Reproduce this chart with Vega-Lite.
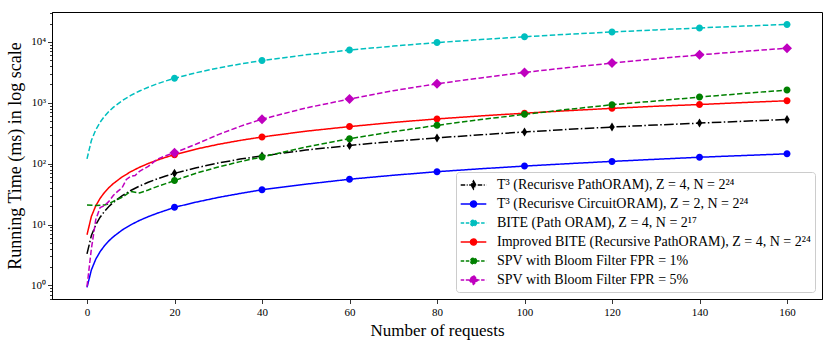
{
 "$schema": "https://vega.github.io/schema/vega-lite/v6.json",
 "width": 770, "height": 287,
 "autosize": {"type": "none"},
 "padding": {"left": 52, "top": 12, "right": 9, "bottom": 45},
 "background": "white",
 "datasets": {"d": [
  {"s":"A","n":0,"v":3.3},{"s":"A","n":1,"v":6.6},{"s":"A","n":2,"v":9.9},{"s":"A","n":3,"v":13.2},{"s":"A","n":4,"v":16.5},{"s":"A","n":5,"v":19.8},{"s":"A","n":6,"v":23.1},{"s":"A","n":8,"v":29.7},{"s":"A","n":10,"v":36.3},{"s":"A","n":12,"v":42.9},{"s":"A","n":14,"v":49.5},{"s":"A","n":16,"v":56.1},{"s":"A","n":18,"v":62.7},{"s":"A","n":20,"v":69.3},{"s":"A","n":25,"v":85.8},{"s":"A","n":30,"v":102.3},{"s":"A","n":35,"v":118.8},{"s":"A","n":40,"v":134},{"s":"A","n":50,"v":167},{"s":"A","n":60,"v":199},{"s":"A","n":70,"v":232},{"s":"A","n":80,"v":265},{"s":"A","n":90,"v":298},{"s":"A","n":100,"v":331},{"s":"A","n":110,"v":366},{"s":"A","n":120,"v":399},{"s":"A","n":130,"v":431},{"s":"A","n":140,"v":463},{"s":"A","n":150,"v":497},{"s":"A","n":160,"v":532},
  {"s":"B","n":0,"v":0.93},{"s":"B","n":1,"v":1.8},{"s":"B","n":2,"v":2.7},{"s":"B","n":3,"v":3.6},{"s":"B","n":4,"v":4.5},{"s":"B","n":5,"v":5.4},{"s":"B","n":6,"v":6.3},{"s":"B","n":8,"v":8.1},{"s":"B","n":10,"v":9.9},{"s":"B","n":12,"v":11.7},{"s":"B","n":14,"v":13.5},{"s":"B","n":16,"v":15.3},{"s":"B","n":18,"v":17.1},{"s":"B","n":20,"v":19.2},{"s":"B","n":25,"v":23.4},{"s":"B","n":30,"v":27.9},{"s":"B","n":35,"v":32.4},{"s":"B","n":40,"v":37.3},{"s":"B","n":50,"v":46},{"s":"B","n":60,"v":55.5},{"s":"B","n":70,"v":64.5},{"s":"B","n":80,"v":73.8},{"s":"B","n":90,"v":82.5},{"s":"B","n":100,"v":91.3},{"s":"B","n":110,"v":100},{"s":"B","n":120,"v":109},{"s":"B","n":130,"v":118},{"s":"B","n":140,"v":127.5},{"s":"B","n":150,"v":136},{"s":"B","n":160,"v":145},
  {"s":"C","n":0,"v":120},{"s":"C","n":1,"v":240},{"s":"C","n":2,"v":360},{"s":"C","n":3,"v":480},{"s":"C","n":4,"v":600},{"s":"C","n":5,"v":720},{"s":"C","n":6,"v":840},{"s":"C","n":8,"v":1080},{"s":"C","n":10,"v":1320},{"s":"C","n":12,"v":1560},{"s":"C","n":14,"v":1800},{"s":"C","n":16,"v":2040},{"s":"C","n":18,"v":2280},{"s":"C","n":20,"v":2520},{"s":"C","n":25,"v":3120},{"s":"C","n":30,"v":3720},{"s":"C","n":35,"v":4320},{"s":"C","n":40,"v":4920},{"s":"C","n":50,"v":6120},{"s":"C","n":60,"v":7320},{"s":"C","n":70,"v":8520},{"s":"C","n":80,"v":9720},{"s":"C","n":90,"v":10920},{"s":"C","n":100,"v":12120},{"s":"C","n":110,"v":13320},{"s":"C","n":120,"v":14520},{"s":"C","n":130,"v":15720},{"s":"C","n":140,"v":16920},{"s":"C","n":150,"v":18120},{"s":"C","n":160,"v":19320},
  {"s":"D","n":0,"v":6.8},{"s":"D","n":1,"v":13.6},{"s":"D","n":2,"v":20.3},{"s":"D","n":3,"v":27},{"s":"D","n":4,"v":33.7},{"s":"D","n":5,"v":40.4},{"s":"D","n":6,"v":47},{"s":"D","n":8,"v":60.4},{"s":"D","n":10,"v":73.8},{"s":"D","n":12,"v":87.2},{"s":"D","n":14,"v":100.6},{"s":"D","n":16,"v":114},{"s":"D","n":18,"v":127.4},{"s":"D","n":20,"v":140.5},{"s":"D","n":25,"v":174},{"s":"D","n":30,"v":207.5},{"s":"D","n":35,"v":241},{"s":"D","n":40,"v":274},{"s":"D","n":50,"v":341},{"s":"D","n":60,"v":406},{"s":"D","n":70,"v":475},{"s":"D","n":80,"v":543},{"s":"D","n":90,"v":608},{"s":"D","n":100,"v":674},{"s":"D","n":110,"v":742},{"s":"D","n":120,"v":809},{"s":"D","n":130,"v":876},{"s":"D","n":140,"v":935},{"s":"D","n":150,"v":1008},{"s":"D","n":160,"v":1078},
  {"s":"E","n":0,"v":21},{"s":"E","n":2,"v":20.5},{"s":"E","n":4,"v":21},{"s":"E","n":5,"v":22},{"s":"E","n":6,"v":24},{"s":"E","n":8,"v":28},{"s":"E","n":10,"v":35},{"s":"E","n":11,"v":34},{"s":"E","n":12,"v":33},{"s":"E","n":14,"v":37},{"s":"E","n":16,"v":42},{"s":"E","n":18,"v":47},{"s":"E","n":20,"v":52.7},{"s":"E","n":25,"v":70},{"s":"E","n":30,"v":88},{"s":"E","n":35,"v":108},{"s":"E","n":40,"v":129},{"s":"E","n":50,"v":188},{"s":"E","n":60,"v":257},{"s":"E","n":70,"v":335},{"s":"E","n":80,"v":426},{"s":"E","n":90,"v":530},{"s":"E","n":100,"v":645},{"s":"E","n":110,"v":780},{"s":"E","n":120,"v":927},{"s":"E","n":130,"v":1070},{"s":"E","n":140,"v":1240},{"s":"E","n":150,"v":1420},{"s":"E","n":160,"v":1615},
  {"s":"F","n":0,"v":0.96},{"s":"F","n":1,"v":4},{"s":"F","n":2,"v":12},{"s":"F","n":3,"v":19},{"s":"F","n":4,"v":20.5},{"s":"F","n":5,"v":24},{"s":"F","n":6,"v":30},{"s":"F","n":7,"v":35},{"s":"F","n":8,"v":40},{"s":"F","n":9,"v":55},{"s":"F","n":10,"v":62},{"s":"F","n":11,"v":64},{"s":"F","n":12,"v":75},{"s":"F","n":14,"v":90},{"s":"F","n":16,"v":118},{"s":"F","n":18,"v":135},{"s":"F","n":20,"v":151},{"s":"F","n":25,"v":210},{"s":"F","n":30,"v":300},{"s":"F","n":35,"v":410},{"s":"F","n":40,"v":537},{"s":"F","n":50,"v":820},{"s":"F","n":60,"v":1150},{"s":"F","n":70,"v":1580},{"s":"F","n":80,"v":2048},{"s":"F","n":90,"v":2560},{"s":"F","n":100,"v":3150},{"s":"F","n":110,"v":3780},{"s":"F","n":120,"v":4477},{"s":"F","n":130,"v":5250},{"s":"F","n":140,"v":6120},{"s":"F","n":150,"v":6950},{"s":"F","n":160,"v":7880}
 ]},
 "data": {"name": "d"},
 "encoding": {
  "x": {"field": "n", "type": "quantitative", "title": "Number of requests",
   "scale": {"domain": [-8, 168], "nice": false, "zero": false},
   "axis": {"values": [0,20,40,60,80,100,120,140,160], "tickSize": 4.5, "labelPadding": 3, "titlePadding": 5, "labelFlush": false}},
  "y": {"field": "v", "type": "quantitative", "title": "Running Time (ms) in log scale",
   "scale": {"type": "log", "domain": [0.6, 30900], "nice": false},
   "axis": {"values": [0.6,0.7,0.8,0.9,1,2,3,4,5,6,7,8,9,10,20,30,40,50,60,70,80,90,100,200,300,400,500,600,700,800,900,1000,2000,3000,4000,5000,6000,7000,8000,9000,10000,20000,30000],
    "labelExpr": "indexof([1,10,100,1000,10000], datum.value) >= 0 ? '10' + ['⁰','¹','²','³','⁴'][round(log(datum.value)/LN10)] : ''",
    "tickSize": {"condition": {"test": "indexof([1,10,100,1000,10000], datum.value) >= 0", "value": 4.5}, "value": 2.5},
    "labelOverlap": false, "labelPadding": 2, "titlePadding": 6, "titleFontSize": 18, "labelFlush": false}}
 },
 "layer": [
  {"mark": {"type": "line", "strokeWidth": 1.5, "clip": true},
   "encoding": {
    "color": {"field": "s", "type": "nominal", "legend": null,
     "scale": {"domain": ["A","B","C","D","E","F"], "range": ["#000000","#0000ff","#00bfbf","#ff0000","#008000","#bf00bf"]}},
    "strokeDash": {"field": "s", "type": "nominal", "legend": null,
     "scale": {"domain": ["A","B","C","D","E","F"], "range": [[9.6,2.4,1.5,2.4],[1,0],[5.5,2.4],[1,0],[5.5,2.4],[5.5,2.4]]}}
   }},
  {"transform": [{"filter": "datum.n >= 20 && datum.n % 20 == 0"}],
   "mark": {"type": "point", "filled": true, "opacity": 1, "size": 100},
   "encoding": {
    "color": {"field": "s", "type": "nominal", "legend": null,
     "scale": {"domain": ["A","B","C","D","E","F"], "range": ["#000000","#0000ff","#00bfbf","#ff0000","#008000","#bf00bf"]}},
    "shape": {"field": "s", "type": "nominal", "legend": null,
     "scale": {"domain": ["A","B","C","D","E","F"], "range": [
      "M0,-0.9L0.55,0L0,0.9L-0.55,0Z",
      "M0.7,0A0.7,0.7,0,1,1,-0.7,0A0.7,0.7,0,1,1,0.7,0Z",
      "M0.7,0A0.7,0.7,0,1,1,-0.7,0A0.7,0.7,0,1,1,0.7,0Z",
      "M0.7,0A0.7,0.7,0,1,1,-0.7,0A0.7,0.7,0,1,1,0.7,0Z",
      "M0.7,0A0.7,0.7,0,1,1,-0.7,0A0.7,0.7,0,1,1,0.7,0Z",
      "M0,-1L1,0L0,1L-1,0Z"]}}
   }},
  {"transform": [{"filter": "datum.n == 160"}],
   "mark": {"type": "point", "filled": true, "opacity": 0, "strokeWidth": 1.5},
   "encoding": {
    "fill": {"field": "s", "type": "nominal", "title": null,
     "scale": {"domain": ["A","B","C","D","E","F"], "range": ["#000000","#0000ff","#00bfbf","#ff0000","#008000","#bf00bf"]},
     "legend": {"labelExpr": "{'A':'T³ (Recurisve PathORAM), Z = 4, N = 2²⁴','B':'T³ (Recurisve CircuitORAM), Z = 2, N = 2²⁴','C':'BITE (Path ORAM), Z = 4, N = 2¹⁷','D':'Improved BITE (Recursive PathORAM), Z = 4, N = 2²⁴','E':'SPV with Bloom Filter FPR = 1%','F':'SPV with Bloom Filter FPR = 5%'}[datum.label]"}},
    "stroke": {"field": "s", "type": "nominal", "title": null,
     "scale": {"domain": ["A","B","C","D","E","F"], "range": ["#000000","#0000ff","#00bfbf","#ff0000","#008000","#bf00bf"]},
     "legend": {"labelExpr": "{'A':'T³ (Recurisve PathORAM), Z = 4, N = 2²⁴','B':'T³ (Recurisve CircuitORAM), Z = 2, N = 2²⁴','C':'BITE (Path ORAM), Z = 4, N = 2¹⁷','D':'Improved BITE (Recursive PathORAM), Z = 4, N = 2²⁴','E':'SPV with Bloom Filter FPR = 1%','F':'SPV with Bloom Filter FPR = 5%'}[datum.label]"}},
    "shape": {"field": "s", "type": "nominal", "title": null,
     "scale": {"domain": ["A","B","C","D","E","F"], "range": [
      "M-1.6,0L1.6,0M0,-0.5L0.28,0L0,0.5L-0.28,0Z",
      "M-1.6,0L1.6,0M0.375,0A0.375,0.375,0,1,1,-0.375,0A0.375,0.375,0,1,1,0.375,0Z",
      "M-1.6,0L1.6,0M0.375,0A0.375,0.375,0,1,1,-0.375,0A0.375,0.375,0,1,1,0.375,0Z",
      "M-1.6,0L1.6,0M0.375,0A0.375,0.375,0,1,1,-0.375,0A0.375,0.375,0,1,1,0.375,0Z",
      "M-1.6,0L1.6,0M0.375,0A0.375,0.375,0,1,1,-0.375,0A0.375,0.375,0,1,1,0.375,0Z",
      "M-1.6,0L1.6,0M0,-0.55L0.55,0L0,0.55L-0.55,0Z"]},
     "legend": {"labelExpr": "{'A':'T³ (Recurisve PathORAM), Z = 4, N = 2²⁴','B':'T³ (Recurisve CircuitORAM), Z = 2, N = 2²⁴','C':'BITE (Path ORAM), Z = 4, N = 2¹⁷','D':'Improved BITE (Recursive PathORAM), Z = 4, N = 2²⁴','E':'SPV with Bloom Filter FPR = 1%','F':'SPV with Bloom Filter FPR = 5%'}[datum.label]"}},
    "strokeDash": {"field": "s", "type": "nominal", "title": null,
     "scale": {"domain": ["A","B","C","D","E","F"], "range": [[4.5,1.5,1,1.5],[1,0],[3.5,1.6],[1,0],[3.5,1.6],[3.5,1.6]]},
     "legend": {"labelExpr": "{'A':'T³ (Recurisve PathORAM), Z = 4, N = 2²⁴','B':'T³ (Recurisve CircuitORAM), Z = 2, N = 2²⁴','C':'BITE (Path ORAM), Z = 4, N = 2¹⁷','D':'Improved BITE (Recursive PathORAM), Z = 4, N = 2²⁴','E':'SPV with Bloom Filter FPR = 1%','F':'SPV with Bloom Filter FPR = 5%'}[datum.label]"}}
   }}
 ],
 "resolve": {"scale": {"color": "independent", "shape": "independent", "strokeDash": "independent", "fill": "independent", "stroke": "independent"}},
 "config": {
  "view": {"stroke": "black", "strokeWidth": 1},
  "axis": {"grid": false, "domainColor": "black", "tickColor": "black", "labelColor": "black", "titleColor": "black",
   "labelFont": "Liberation Serif", "titleFont": "Liberation Serif", "titleFontWeight": "normal",
   "labelFontSize": 11, "titleFontSize": 17, "tickWidth": 0.8, "domainWidth": 1},
  "legend": {"orient": "bottom-right", "offset": 7, "padding": 4, "rowPadding": 3, "symbolSize": 256,
   "symbolOffset": 4.5, "labelOffset": 14.5, "labelFont": "Liberation Serif", "labelFontSize": 14,
   "labelLimit": 500, "labelColor": "black", "strokeColor": "#cccccc", "fillColor": "rgba(255,255,255,0.8)",
   "cornerRadius": 3, "symbolOpacity": 1, "symbolStrokeWidth": 1.5}
 }
}
